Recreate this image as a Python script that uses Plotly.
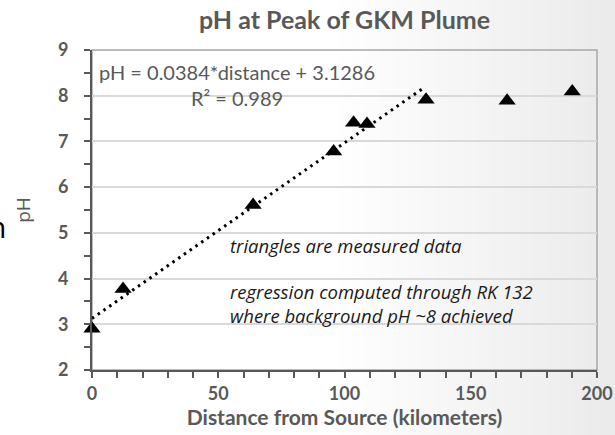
import plotly.graph_objects as go

# --- Data ---
distance_km = [0, 12.3, 63.8, 95.7, 103.6, 108.9, 132.3, 164.4, 190.2]
ph_values = [2.9, 3.77, 5.61, 6.78, 7.41, 7.38, 7.91, 7.89, 8.09]

# regression (through RK 132)
slope = 0.0384
intercept = 3.1286
trend_x = [0, 132]
trend_y = [slope * x + intercept for x in trend_x]

GRAY = '#595959'
TICK_FONT = dict(family='Lato', size=18, color=GRAY, weight='bold')

W, H = 615, 435
L, R, T, B = 92, 18, 50, 65
PW = W - L - R
PH = H - T - B

fig = go.Figure()

fig.add_trace(go.Scatter(
    x=trend_x, y=trend_y, mode='lines',
    line=dict(color='black', width=3, dash='2.5px,4.5px'),
    hoverinfo='skip', showlegend=False, cliponaxis=False
))

fig.add_trace(go.Scatter(
    x=distance_km, y=ph_values, mode='markers',
    marker=dict(symbol='triangle-up', size=15, color='black'),
    showlegend=False, cliponaxis=False
))

# soft grey slide gradient behind everything
shapes = []
n_strips = 40
start = 0.55 * W
for i in range(n_strips):
    px0 = start + i * (W - start) / n_strips
    px1 = px0 + (W - start) / n_strips + 1
    t = (i + 0.5) / n_strips
    c = int(255 - 20 * t)
    shapes.append(dict(
        type='rect', xref='paper', yref='paper',
        x0=(px0 - L) / PW, x1=(px1 - L) / PW,
        y0=-0.3, y1=1.3, line=dict(width=0),
        fillcolor=f'rgb({c},{c},{c})', layer='below'
    ))
# plot frame (top / right)
shapes.append(dict(
    type='rect', xref='paper', yref='paper', x0=0, x1=1, y0=0, y1=1,
    line=dict(color='#a6a6a6', width=1.5), layer='below'
))

fig.update_layout(
    width=W, height=H,
    margin=dict(l=L, r=R, t=T, b=B, autoexpand=False),
    paper_bgcolor='white',
    plot_bgcolor='rgba(0,0,0,0)',
    shapes=shapes,
    title=dict(
        text='<b>pH at Peak of GKM Plume</b>',
        x=(L + PW / 2) / W, xanchor='center', y=1 - 20 / H, yanchor='middle',
        font=dict(family='Lato', size=25, color=GRAY)
    ),
    xaxis=dict(
        range=[0, 200], dtick=50, tick0=0, automargin=False,
        showgrid=False, zeroline=False,
        showline=True, linecolor=GRAY, linewidth=2,
        ticks='outside', ticklen=6, tickwidth=2, tickcolor=GRAY,
        minor=dict(dtick=10, ticks='outside', ticklen=6, tickwidth=2,
                   tickcolor=GRAY, showgrid=False),
        tickfont=TICK_FONT,
        title=dict(text='<b>Distance from Source (kilometers)</b>',
                   font=dict(family='Lato', size=21, color=GRAY), standoff=3),
    ),
    yaxis=dict(
        range=[2, 9], dtick=1, tick0=2, automargin=False,
        showgrid=True, gridcolor='#d9d9d9', gridwidth=1.5,
        zeroline=False,
        showline=True, linecolor=GRAY, linewidth=2,
        ticks='outside', ticklen=6, tickwidth=2, tickcolor=GRAY,
        minor=dict(dtick=0.5, ticks='outside', ticklen=6, tickwidth=2,
                   tickcolor=GRAY, showgrid=False),
        tickfont=TICK_FONT, ticklabelstandoff=12,
        title=dict(text='pH', font=dict(family='Open Sans', size=19, color=GRAY),
                   standoff=22),
    ),
)

# regression label
fig.add_annotation(
    text='pH = 0.0384*distance + 3.1286<br>R² = 0.989',
    xref='x', yref='y', x=57.5, y=8.24, xanchor='center', yanchor='middle',
    align='center', showarrow=False,
    font=dict(family='Lato', size=20, color=GRAY)
)

# notes
NOTE_FONT = dict(family='Open Sans', size=18.5, color='#1a1a1a')
fig.add_annotation(
    text='<i>triangles are measured data</i>',
    xref='x', yref='y', x=54, y=4.73, xanchor='left', yanchor='middle',
    showarrow=False, font=NOTE_FONT
)
fig.add_annotation(
    text='<i>regression computed through RK 132<br>where background pH ~8 achieved</i>',
    xref='x', yref='y', x=54, y=3.45, xanchor='left', yanchor='middle',
    align='left', showarrow=False, font=NOTE_FONT
)

# clipped slide text at the left edge
fig.add_annotation(
    text='n', xref='paper', yref='paper',
    x=(-3 - L) / PW, y=(H - B - 226) / PH, xanchor='center', yanchor='middle',
    showarrow=False, font=dict(family='Open Sans', size=30, color='black')
)

# drop the default page margin so the figure sits at the window's corner
fig.write_html('out.html', config={'displayModeBar': False},
               post_script="document.body.style.margin='0';")
